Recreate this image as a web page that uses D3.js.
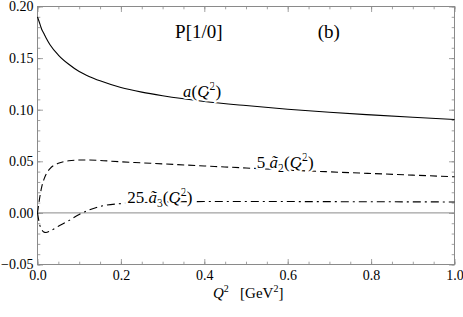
<!DOCTYPE html>
<html>
<head>
<meta charset="utf-8">
<script src="https://cdn.jsdelivr.net/npm/d3@7"></script>
<style>
  body { margin: 0; background: #fff; }
  svg text { font-family: "Liberation Serif", "Times New Roman", serif !important; }
</style>
</head>
<body>
<div id="chart"></div>
<script>
(function () {
    'use strict';

    var WIDTH = 463;
    var HEIGHT = 317;
    var SERIF = "'Liberation Serif', 'Times New Roman', serif";
    var margin = {top: 6.5, right: 8.5, bottom: 52.5, left: 37.5};

    // Q^2 grid and the three curves
    var q2 = [0, 0.005, 0.01, 0.015, 0.02, 0.03, 0.05, 0.075, 0.1, 0.125, 0.15, 0.2,
              0.25, 0.3, 0.4, 0.5, 0.6, 0.7, 0.8, 0.9, 1.0];
    var aVals = [0.190, 0.184, 0.178, 0.174, 0.170, 0.163, 0.153, 0.144, 0.137, 0.132, 0.128, 0.1215,
                 0.117, 0.1135, 0.108, 0.104, 0.1005, 0.0975, 0.095, 0.0927, 0.0905];
    var a2Vals = [0.000, 0.014, 0.025, 0.032, 0.037, 0.043, 0.048, 0.0505, 0.0512, 0.0512, 0.0508, 0.0495,
                  0.0485, 0.0475, 0.0455, 0.0435, 0.0415, 0.0398, 0.0382, 0.0366, 0.035];
    var a3Vals = [0.000, -0.011, -0.016, -0.0185, -0.019, -0.0175, -0.013, -0.0075, -0.0015, 0.003, 0.0063, 0.0090,
                  0.0100, 0.0106, 0.0110, 0.0111, 0.0110, 0.0109, 0.0108, 0.0107, 0.0106];

    var xTicks = [0, 0.2, 0.4, 0.6, 0.8, 1.0];
    var yTicks = [-0.05, 0, 0.05, 0.10, 0.15, 0.20];

    var w = WIDTH - margin.left - margin.right;
    var h = HEIGHT - margin.top - margin.bottom;

    var x = d3.scaleLinear().domain([0, 1]).range([0, w]);
    var y = d3.scaleLinear().domain([-0.05, 0.20]).range([h, 0]);

    var svg = d3.select("#chart").append("svg")
        .attr("width", WIDTH)
        .attr("height", HEIGHT)
        .style("font-family", SERIF);

    var g = svg.append("g")
        .attr("transform", "translate(" + margin.left + "," + margin.top + ")");

    var xMinor = d3.range(0, 1.0001, 0.05);
    var yMinor = d3.range(-0.05, 0.2001, 0.01);

    function styleAxis(sel) {
        sel.attr("font-family", null);
        sel.select(".domain").remove();
        sel.selectAll(".tick line").attr("stroke", "#8a8a8a").attr("stroke-width", 0.8);
        sel.selectAll(".tick text")
            .style("font-family", SERIF)
            .attr("font-size", 14)
            .attr("fill", "#000");
    }

    // minor ticks, all four sides
    g.append("g").attr("transform", "translate(0," + h + ")")
        .call(d3.axisBottom(x).tickValues(xMinor).tickSize(-2.8).tickFormat(""))
        .call(styleAxis);
    g.append("g")
        .call(d3.axisTop(x).tickValues(xMinor).tickSize(-2.8).tickFormat(""))
        .call(styleAxis);
    g.append("g")
        .call(d3.axisLeft(y).tickValues(yMinor).tickSize(-2.8).tickFormat(""))
        .call(styleAxis);
    g.append("g").attr("transform", "translate(" + w + ",0)")
        .call(d3.axisRight(y).tickValues(yMinor).tickSize(-2.8).tickFormat(""))
        .call(styleAxis);

    // major ticks
    g.append("g").attr("transform", "translate(0," + h + ")")
        .call(d3.axisBottom(x).tickValues(xTicks).tickSize(-5.5).tickPadding(6).tickFormat(d3.format(".1f")))
        .call(styleAxis);
    g.append("g")
        .call(d3.axisTop(x).tickValues(xTicks).tickSize(-5.5).tickFormat(""))
        .call(styleAxis);
    g.append("g")
        .call(d3.axisLeft(y).tickValues(yTicks).tickSize(-5.5).tickPadding(4).tickFormat(d3.format(".2f")))
        .call(styleAxis);
    g.append("g").attr("transform", "translate(" + w + ",0)")
        .call(d3.axisRight(y).tickValues(yTicks).tickSize(-5.5).tickFormat(""))
        .call(styleAxis);

    // frame
    g.append("rect")
        .attr("width", w).attr("height", h)
        .attr("fill", "none")
        .attr("stroke", "#8a8a8a")
        .attr("stroke-width", 1);

    // zero line
    g.append("line")
        .attr("x1", x(0)).attr("x2", x(1))
        .attr("y1", y(0)).attr("y2", y(0))
        .attr("stroke", "#8a8a8a")
        .attr("stroke-width", 1);

    function drawCurve(vals, dash) {
        var line = d3.line()
            .x(function (d, i) { return x(q2[i]); })
            .y(function (d) { return y(d); })
            .curve(d3.curveMonotoneX);
        g.append("path")
            .datum(vals)
            .attr("d", line)
            .attr("fill", "none")
            .attr("stroke", "#000")
            .attr("stroke-width", 1.1)
            .attr("stroke-dasharray", dash);
    }

    drawCurve(aVals, null);
    drawCurve(a2Vals, "7,4");
    drawCurve(a3Vals, "8,4,2,4");

    // curve labels
    function label(px, py, parts, size) {
        var t = g.append("text")
            .attr("x", x(px)).attr("y", y(py))
            .attr("font-size", size)
            .style("font-family", SERIF)
            .attr("fill", "#000")
            .attr("stroke", "#fff")
            .attr("stroke-width", 4)
            .attr("paint-order", "stroke");
        parts.forEach(function (p) {
            var s = t.append("tspan").text(p.t);
            if (p.i) s.attr("font-style", "italic");
            if (p.sub) s.attr("font-size", size * 0.7).attr("dy", 4);
            if (p.sup) s.attr("font-size", size * 0.7).attr("dy", -7);
            if (p.back) s.attr("dy", p.back);
        });
    }

    label(0.349, 0.1125, [
        {t: "a", i: true}, {t: "("}, {t: "Q", i: true}, {t: "2", sup: true}, {t: ")", back: 7}
    ], 17);
    label(0.526, 0.0435, [
        {t: "5 "}, {t: "ã", i: true}, {t: "2", sub: true}, {t: "(", back: -4}, {t: "Q", i: true},
        {t: "2", sup: true}, {t: ")", back: 7}
    ], 17);
    label(0.215, 0.0099, [
        {t: "25 "}, {t: "ã", i: true}, {t: "3", sub: true}, {t: "(", back: -4}, {t: "Q", i: true},
        {t: "2", sup: true}, {t: ")", back: 7}
    ], 17);

    // panel titles
    g.append("text")
        .attr("x", x(0.33)).attr("y", 31)
        .attr("font-size", 19)
        .style("font-family", SERIF)
        .text("P[1/0]");
    g.append("text")
        .attr("x", x(0.672)).attr("y", 31)
        .attr("font-size", 19)
        .style("font-family", SERIF)
        .text("(b)");

    // x axis title
    var xt = svg.append("text")
        .attr("x", 213).attr("y", 298)
        .attr("font-size", 15)
        .style("font-family", SERIF);
    xt.append("tspan").attr("font-style", "italic").text("Q");
    xt.append("tspan").attr("font-size", 10).attr("dy", -6).text("2");
    xt.append("tspan").attr("dy", 6).text("\u2002 [GeV");
    xt.append("tspan").attr("font-size", 10).attr("dy", -6).text("2");
    xt.append("tspan").attr("dy", 6).text("]");
})();
</script>
</body>
</html>
